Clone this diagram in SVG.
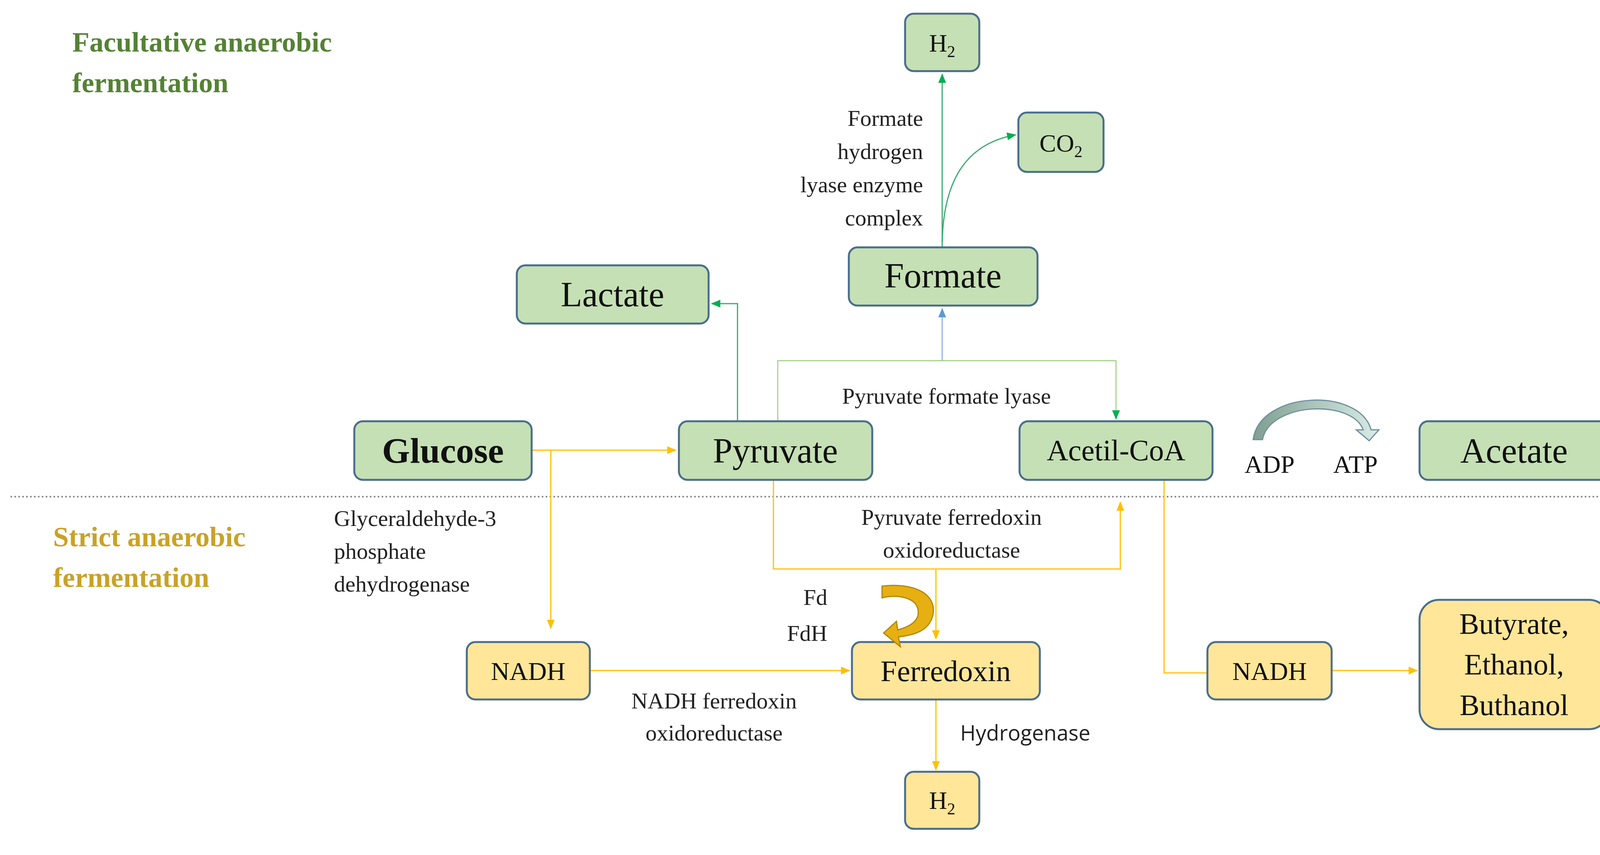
<svg xmlns="http://www.w3.org/2000/svg" width="4258" height="2188" viewBox="0 0 4258 2188" font-family="Liberation Serif, serif">
<defs>
<style>
.g{fill:#c5e0b4;stroke:#4a6e8c;stroke-width:5}
.y{fill:#ffe699;stroke:#4a6e8c;stroke-width:5}
.t{fill:#111;text-anchor:middle}
.l{fill:#222;font-size:58px}
.yl{fill:none;stroke:#ffc000;stroke-width:3}
.gl{fill:none;stroke:#3aaa70;stroke-width:3}
.pl{fill:none;stroke:#a9d18e;stroke-width:3}
</style>
<marker id="ag" markerWidth="24" markerHeight="24" refX="22" refY="12" orient="auto" markerUnits="userSpaceOnUse" viewBox="0 0 24 24"><path d="M0,2L24,12L0,22z" fill="#00b050"/></marker>
<marker id="ab" markerWidth="24" markerHeight="24" refX="22" refY="12" orient="auto" markerUnits="userSpaceOnUse" viewBox="0 0 24 24"><path d="M0,2L24,12L0,22z" fill="#5b9bd5"/></marker>
<marker id="ay2" markerWidth="24" markerHeight="24" refX="22" refY="12" orient="auto" markerUnits="userSpaceOnUse" viewBox="0 0 24 24"><path d="M0,2L24,12L0,22z" fill="#ffc000"/></marker>
<linearGradient id="gr" x1="0" y1="0" x2="1" y2="0"><stop offset="0" stop-color="#7f9f8f"/><stop offset="1" stop-color="#d9ece6"/></linearGradient>
</defs>
<rect width="4258" height="2188" fill="#fff"/>
<g id="titles" font-family="Liberation Serif, serif" font-weight="bold" font-size="72">
<text x="185" y="132" fill="#548235">Facultative anaerobic</text>
<text x="185" y="236" fill="#548235">fermentation</text>
<text x="136" y="1398" fill="#c9a227">Strict anaerobic</text>
<text x="136" y="1502" fill="#c9a227">fermentation</text>
</g>
<line x1="27" y1="1271" x2="4232" y2="1271" stroke="#888" stroke-width="4" stroke-dasharray="4,6"/>
<g id="connectors">
<path class="yl" d="M1361,1152H1730" marker-end="url(#ay2)"/>
<path class="yl" d="M1410,1152V1608" marker-end="url(#ay2)"/>
<path class="gl" d="M1888,1078V777H1822" marker-end="url(#ag)"/>
<path class="pl" d="M1991,1078V923H2857V1070"/>
<path d="M2857,1050V1072" stroke="#00b050" stroke-width="3" marker-end="url(#ag)"/>
<path d="M2412,923V790" stroke="#8eb4e3" stroke-width="3" marker-end="url(#ab)"/>
<path class="gl" d="M2412,633V190" marker-end="url(#ag)"/>
<path class="gl" d="M2412,620C2415,480 2460,370 2600,345" marker-end="url(#ag)"/>
<path class="yl" d="M1980,1228V1456H2868V1285" marker-end="url(#ay2)"/>
<path class="yl" d="M2396,1456V1635" marker-end="url(#ay2)"/>
<path class="yl" d="M1510,1716H2175" marker-end="url(#ay2)"/>
<path class="yl" d="M2980,1228V1722H3091"/>
<path class="yl" d="M3409,1716H3628" marker-end="url(#ay2)"/>
<path class="yl" d="M2396,1790V1970" marker-end="url(#ay2)"/>
</g>
<g id="n-h2top"><rect class="g" x="2317" y="35" width="190" height="147" rx="22"/><text class="t" x="2412" y="132" font-size="64">H<tspan font-size="42" dy="14">2</tspan></text></g>
<g id="n-co2"><rect class="g" x="2607" y="288" width="218" height="152" rx="22"/><text class="t" x="2716" y="388" font-size="64">CO<tspan font-size="42" dy="14">2</tspan></text></g>
<g id="n-formate"><rect class="g" x="2173" y="633" width="483" height="149" rx="22"/><text class="t" x="2414" y="736" font-size="90">Formate</text></g>
<g id="n-lactate"><rect class="g" x="1323" y="679" width="491" height="149" rx="22"/><text class="t" x="1568" y="784" font-size="90">Lactate</text></g>
<g id="n-glucose"><rect class="g" x="907" y="1078" width="454" height="150" rx="22"/><text class="t" x="1134" y="1184" font-size="92" font-weight="bold">Glucose</text></g>
<g id="n-pyruvate"><rect class="g" x="1738" y="1078" width="495" height="150" rx="22"/><text class="t" x="1985" y="1184" font-size="90">Pyruvate</text></g>
<g id="n-acetil"><rect class="g" x="2610" y="1078" width="494" height="150" rx="22"/><text class="t" x="2857" y="1178" font-size="76">Acetil-CoA</text></g>
<g id="n-acetate"><rect class="g" x="3634" y="1078" width="484" height="150" rx="22"/><text class="t" x="3876" y="1184" font-size="90">Acetate</text></g>
<g id="n-adp">
<path d="M3208,1125C3225,1000 3480,990 3510,1100L3530,1100L3505,1128L3472,1100L3490,1100C3460,1020 3250,1030 3232,1125Z" fill="url(#gr)" stroke="#6f8f9f" stroke-width="3"/>
<text class="t" x="3250" y="1210" font-size="64">ADP</text><text class="t" x="3470" y="1210" font-size="64">ATP</text>
</g>
<g id="n-nadh1"><rect class="y" x="1195" y="1643" width="315" height="147" rx="22"/><text class="t" x="1352" y="1740" font-size="66">NADH</text></g>
<g id="n-ferredoxin"><rect class="y" x="2181" y="1643" width="481" height="147" rx="22"/><text class="t" x="2421" y="1743" font-size="76">Ferredoxin</text></g>
<g id="n-nadh2"><rect class="y" x="3091" y="1643" width="318" height="147" rx="22"/><text class="t" x="3250" y="1740" font-size="66">NADH</text></g>
<g id="n-butyrate"><rect class="y" x="3634" y="1535" width="484" height="331" rx="50"/><text class="t" x="3876" y="1622" font-size="76">Butyrate,</text><text class="t" x="3876" y="1726" font-size="76">Ethanol,</text><text class="t" x="3876" y="1830" font-size="76">Buthanol</text></g>
<g id="n-h2bot"><rect class="y" x="2317" y="1975" width="190" height="146" rx="22"/><text class="t" x="2412" y="2070" font-size="64">H<tspan font-size="42" dy="14">2</tspan></text></g>
<g id="n-fd">
<path d="M2258,1500C2340,1490 2400,1520 2388,1575C2378,1615 2340,1625 2300,1630L2305,1655L2262,1620L2295,1590L2298,1612C2335,1602 2355,1585 2350,1560C2345,1530 2300,1520 2258,1530Z" fill="#e6b012" stroke="#b38600" stroke-width="3"/>
<text class="l" x="2118" y="1548" text-anchor="end">Fd</text><text class="l" x="2118" y="1640" text-anchor="end">FdH</text>
</g>
<g id="labels">
<text class="l" x="2363" y="322" text-anchor="end">Formate</text>
<text class="l" x="2363" y="407" text-anchor="end">hydrogen</text>
<text class="l" x="2363" y="492" text-anchor="end">lyase enzyme</text>
<text class="l" x="2363" y="577" text-anchor="end">complex</text>
<text class="l" x="2423" y="1033" text-anchor="middle">Pyruvate formate lyase</text>
<text class="l" x="855" y="1346">Glyceraldehyde-3</text>
<text class="l" x="855" y="1430">phosphate</text>
<text class="l" x="855" y="1514">dehydrogenase</text>
<text class="l" x="2436" y="1343" text-anchor="middle">Pyruvate ferredoxin</text>
<text class="l" x="2436" y="1427" text-anchor="middle">oxidoreductase</text>
<text class="l" x="1828" y="1813" text-anchor="middle">NADH ferredoxin</text>
<text class="l" x="1828" y="1895" text-anchor="middle">oxidoreductase</text>
<text x="2458" y="1895" font-family="Open Sans, sans-serif" font-size="54" fill="#222">Hydrogenase</text>
</g>
</svg>
